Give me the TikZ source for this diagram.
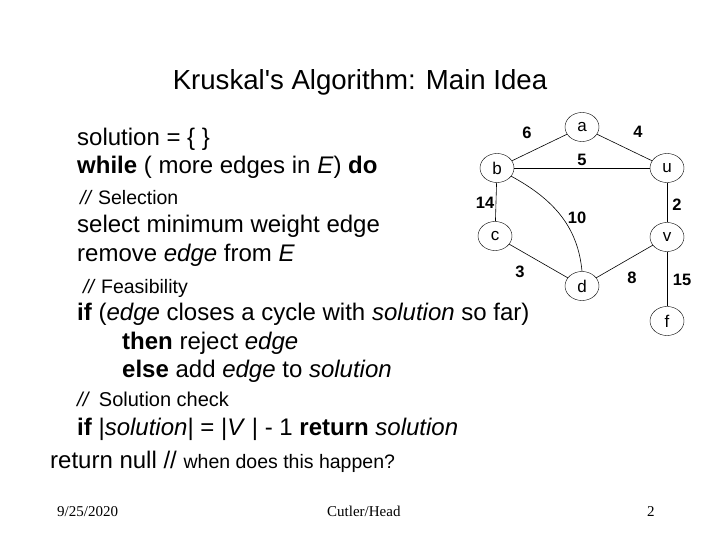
\documentclass[tikz,border=0pt]{standalone}
\usepackage{fontspec}
\setmainfont{Liberation Sans}[Ligatures=TeXOff]
\newfontfamily\seriffont{Liberation Serif}
\usetikzlibrary{shapes.geometric}
\begin{document}
\begin{tikzpicture}[x=1pt,y=-1pt,
  txt/.style={anchor=base west,inner sep=0pt,font=\fontsize{24}{28}\selectfont},
  cmt/.style={anchor=base west,inner sep=0pt,font=\fontsize{19.5}{23}\selectfont},
  foot/.style={anchor=base west,inner sep=0pt,font=\seriffont\fontsize{15}{17}\selectfont},
  vtx/.style={draw,ellipse,minimum width=34pt,minimum height=29pt,inner sep=0pt,font=\fontsize{17}{20}\selectfont},
  wt/.style={inner sep=0pt,font=\bfseries\fontsize{16.5}{19}\selectfont},
  edge/.style={draw,line width=0.6pt}]
\useasboundingbox (0,0) rectangle (720,540);
\node[anchor=base,inner sep=0pt,font=\fontsize{27.6}{32}\selectfont] (title) at (360,90) {Kruskal's Algorithm: Main Idea};

\node[txt] (l1) at (77,146) {solution = \{ \}};
\node[txt] (l2) at (77,174) {\textbf{while} ( more edges in \textit{E}) \textbf{do}};
\node[cmt] (l3) at (80,205) {\textit{//} Selection};
\node[txt] (l4) at (77,233) {select minimum weight edge};
\node[txt] (l5) at (77,261) {remove \textit{edge} from \textit{E}};
\node[cmt] (l6) at (83,293) {\textit{//} Feasibility};
\node[txt] (l7) at (77,320) {\textbf{if} (\textit{edge} closes a cycle with \textit{solution} so far)};
\node[txt] (l8) at (122,349) {\textbf{then} reject \textit{edge}};
\node[txt] (l9) at (122,377) {\textbf{else} add \textit{edge} to \textit{solution}};
\node[cmt,font=\fontsize{20}{23}\selectfont] (l10) at (77,406) {\textit{//}\, Solution check};
\node[txt] (l11) at (77,435) {\textbf{if} |\textit{solution}| = |\textit{V} | - 1 \textbf{return} \textit{solution}};
\node[txt] (l12) at (50,468) {return null // {\fontsize{19.5}{23}\selectfont when does this happen?}};

\node[foot] (f1) at (57,516) {9/25/2020};
\node[foot] (f2) at (327,516) {Cutler/Head};
\node[foot] (f3) at (647,516) {2};

\node[vtx] (a) at (582,127) {a};
\node[vtx] (b) at (497,168) {b};
\node[vtx] (u) at (667,168) {u};
\node[vtx] (c) at (495,236) {c};
\node[vtx] (v) at (667,237) {v};
\node[vtx] (d) at (582,286) {d};
\node[vtx] (f) at (667,321) {f};

\draw[edge] (a) -- (b);
\draw[edge] (a) -- (u);
\draw[edge] (b) -- (u);
\draw[edge] (b) -- (c);
\draw[edge] (u) -- (v);
\draw[edge] (c) -- (d);
\draw[edge] (d) -- (v);
\draw[edge] (v) -- (f);
\draw[edge] (b.-30) .. controls (555,200) and (578,228) .. (d.north);

\node[wt] (w6) at (527,133) {6};
\node[wt] (w4) at (638,132) {4};
\node[wt] (w5) at (582,160) {5};
\node[wt] (w14) at (485,203) {14};
\node[wt] (w2) at (677,205) {2};
\node[wt] (w10) at (577,218) {10};
\node[wt] (w3) at (520,272) {3};
\node[wt] (w8) at (632,278) {8};
\node[wt] (w15) at (682,280) {15};
\end{tikzpicture}
\end{document}
